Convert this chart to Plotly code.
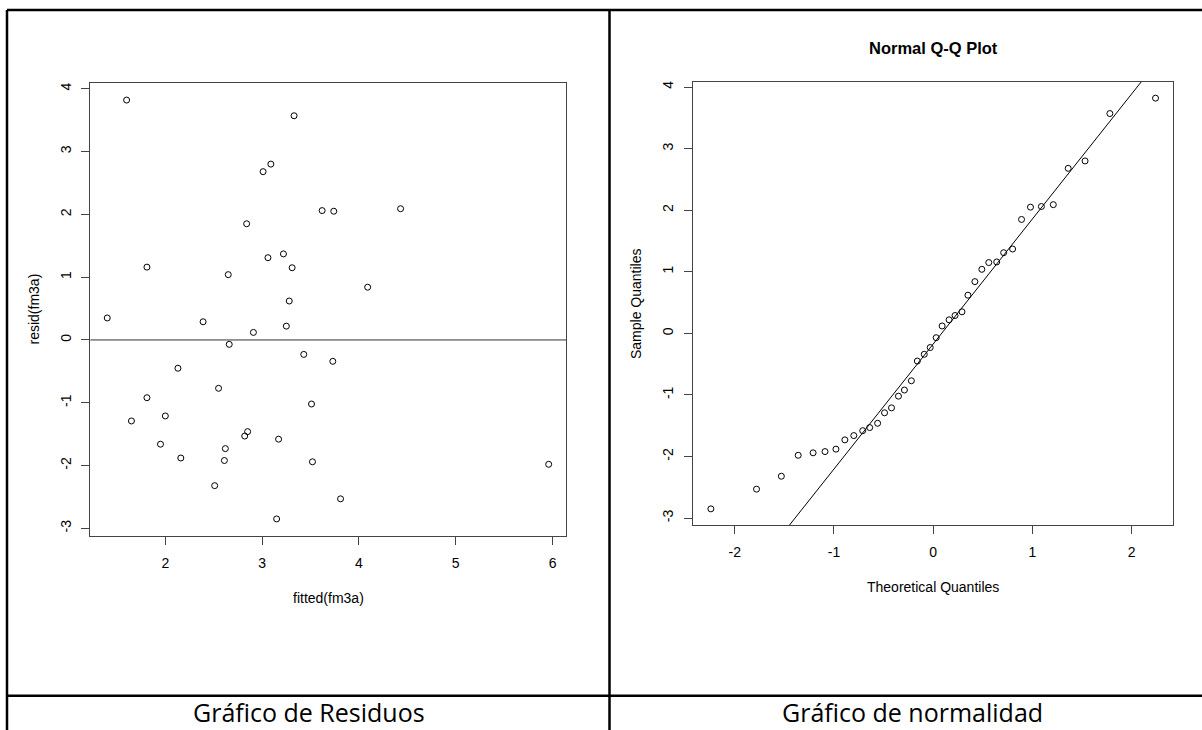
import numpy as np
import plotly.graph_objects as go

# ---- data ----
fitted = [1.60, 3.33, 3.09, 3.01, 3.62, 3.74, 4.43, 2.84, 1.81, 3.22, 3.06, 3.31, 2.65, 4.09,
          3.28, 1.40, 2.39, 3.25, 2.91, 2.66, 3.43, 3.73, 2.13, 2.55, 1.81, 3.51, 2.00, 1.65,
          2.85, 2.82, 3.17, 1.95, 2.62, 2.16, 2.61, 3.52, 5.96, 2.51, 3.81, 3.15]
resid = [3.82, 3.57, 2.80, 2.68, 2.06, 2.05, 2.09, 1.85, 1.16, 1.37, 1.31, 1.15, 1.04, 0.84,
         0.62, 0.35, 0.29, 0.22, 0.12, -0.07, -0.23, -0.34, -0.45, -0.77, -0.92, -1.02, -1.21,
         -1.29, -1.46, -1.53, -1.58, -1.66, -1.73, -1.88, -1.92, -1.94, -1.98, -2.32, -2.53, -2.85]
theoretical = [-2.24, -1.78, -1.53, -1.36, -1.21, -1.09, -0.98, -0.89, -0.80, -0.71,
               -0.64, -0.56, -0.49, -0.42, -0.35, -0.29, -0.22, -0.16, -0.09, -0.03,
               0.03, 0.09, 0.16, 0.22, 0.29, 0.35, 0.42, 0.49, 0.56, 0.64,
               0.71, 0.80, 0.89, 0.98, 1.09, 1.21, 1.36, 1.53, 1.78, 2.24]
x1_ticks = [2, 3, 4, 5, 6]
y_ticks = [-3, -2, -1, 0, 1, 2, 3, 4]
x2_ticks = [-2, -1, 0, 1, 2]
captions = ["Gráfico de Residuos", "Gráfico de normalidad"]

sample = sorted(resid)
q1, q3 = np.percentile(resid, [25, 75])
slope = (q3 - q1) / (0.6744898 * 2)
intercept = q1 + slope * 0.6744898

W, H = 1202, 730
def px(x): return x / W
def py(y): return 1 - y / H

FONT = "Liberation Sans, Arial, sans-serif"
fig = go.Figure()
pt = dict(symbol="circle-open", size=6, color="black", line=dict(width=1, color="black"))
fig.add_trace(go.Scatter(x=fitted, y=resid, mode="markers", marker=pt, xaxis="x", yaxis="y",
                         showlegend=False))
fig.add_trace(go.Scatter(x=theoretical, y=sample, mode="markers", marker=pt, xaxis="x2", yaxis="y2",
                         showlegend=False))
lx = [-3, 3]
fig.add_trace(go.Scatter(x=lx, y=[intercept + slope * v for v in lx], mode="lines",
                         line=dict(color="black", width=1), xaxis="x2", yaxis="y2",
                         showlegend=False))

ax = dict(showline=True, mirror=True, linecolor="#444", linewidth=1, ticks="outside",
          ticklen=8, tickcolor="#444", showgrid=False, zeroline=False,
          tickfont=dict(family=FONT, size=14, color="black"))
def tt(v): return [str(t) for t in v]
fig.update_layout(
    width=W, height=H, margin=dict(l=0, r=0, t=0, b=0),
    paper_bgcolor="white", plot_bgcolor="white", showlegend=False,
    xaxis=dict(ax, domain=[px(90.3), px(566.4)], range=[1.225, 6.143], tickvals=x1_ticks,
               ticktext=tt(x1_ticks), anchor="y", ticklabelstandoff=6),
    yaxis=dict(ax, domain=[py(535.7), py(83.3)], range=[-3.117, 4.087], tickvals=y_ticks,
               ticktext=tt(y_ticks), anchor="x", tickangle=-90, ticklabelstandoff=5),
    xaxis2=dict(ax, domain=[px(693), px(1173.4)], range=[-2.42, 2.42], tickvals=x2_ticks,
                ticktext=tt(x2_ticks), anchor="y2", ticklabelstandoff=6),
    yaxis2=dict(ax, domain=[py(525.3), py(81.7)], range=[-3.117, 4.087], tickvals=y_ticks,
                ticktext=tt(y_ticks), anchor="x2", tickangle=-90, ticklabelstandoff=5),
)

lbl = dict(family=FONT, size=14, color="black")
ann = [
    dict(text="resid(fm3a)", x=px(33), y=py(309.5), textangle=-90, font=lbl),
    dict(text="fitted(fm3a)", x=px(328.4), y=py(598.3), font=lbl),
    dict(text="Sample Quantiles", x=px(635.5), y=py(303.5), textangle=-90, font=lbl),
    dict(text="Theoretical Quantiles", x=px(933.2), y=py(586.7), font=lbl),
    dict(text="<b>Normal Q-Q Plot</b>", x=px(933.2), y=py(48.2),
         font=dict(family=FONT, size=16.5, color="black")),
]
for a in ann:
    fig.add_annotation(xref="paper", yref="paper", showarrow=False, xanchor="center",
                       yanchor="middle", **a)
capfont = dict(family="Open Sans, Lato, sans-serif", size=25, color="black")
for text, cx in zip(captions, [308.6, 912.6]):
    fig.add_annotation(xref="paper", yref="paper", showarrow=False, xanchor="center",
                       yanchor="bottom", x=px(cx), y=0, borderpad=0, text=text, font=capfont)

# zero line in residual plot
fig.add_shape(type="line", xref="x domain", yref="y", x0=0, x1=1, y0=0, y1=0,
              line=dict(color="#333", width=1))
# table borders
bd = dict(color="black", width=2.5)
for (x0, y0, x1, y1) in [(7, 10, W + 2, 10), (7, 10, 7, H + 2), (609.5, 10, 609.5, H + 2),
                         (7, 695.7, W + 2, 695.7)]:
    fig.add_shape(type="line", xref="paper", yref="paper", x0=px(x0), x1=px(x1),
                  y0=py(y0), y1=py(y1), line=bd)

fig.write_html("out.html", config={"displayModeBar": False},
               post_script="document.body.style.margin='0';")
